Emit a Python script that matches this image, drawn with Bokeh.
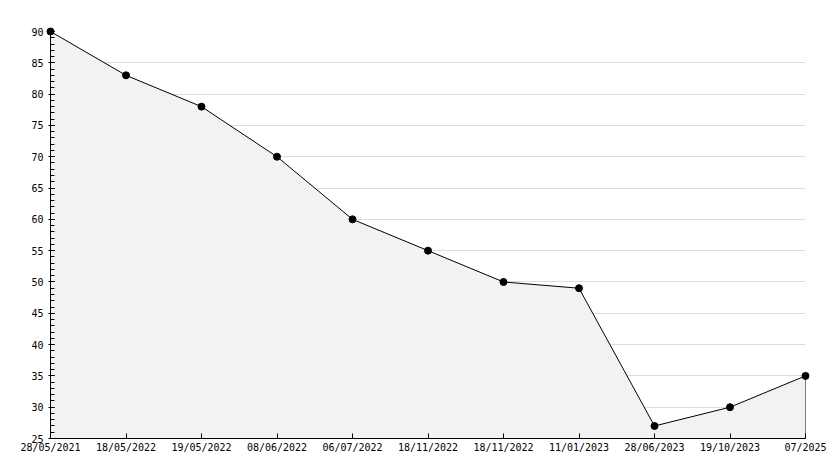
from bokeh.plotting import figure
from bokeh.models import FixedTicker, Range1d, ColumnDataSource
from bokeh.embed import file_html
from bokeh.resources import INLINE

dates = ["28/05/2021", "18/05/2022", "19/05/2022", "08/06/2022", "06/07/2022",
         "18/11/2022", "18/11/2022", "11/01/2023", "28/06/2023", "19/10/2023", "07/2025"]
values = [90, 83, 78, 70, 60, 55, 50, 49, 27, 30, 35]
y_min, y_max = 25, 90
y_ticks = list(range(25, 95, 5))

xs = list(range(len(values)))
src = ColumnDataSource(dict(x=xs, y=values, base=[y_min] * len(values)))

p = figure(width=830, height=460, output_backend="svg", toolbar_location=None,
           x_range=Range1d(0, len(values) - 1), y_range=Range1d(y_min, y_max),
           min_border_left=50, min_border_right=25, min_border_top=31, min_border_bottom=22)
p.outline_line_color = None
p.background_fill_color = "white"

p.varea(x="x", y1="base", y2="y", source=src, fill_color="#f2f2f2")
p.line(x="x", y="y", source=src, line_color="black", line_width=1)
p.segment(x0=[xs[-1]], y0=[y_min], x1=[xs[-1]], y1=[values[-1]], line_color="black", line_width=1)
pts = p.scatter(x="x", y="y", source=src, marker="circle", size=7, fill_color="black", line_color="black")
pts.level = "overlay"

p.xgrid.grid_line_color = None
p.ygrid.grid_line_color = "#dddddd"
p.ygrid.grid_line_width = 1

p.xaxis.ticker = FixedTicker(ticks=xs)
p.xaxis.major_label_overrides = {i: d for i, d in enumerate(dates)}
p.yaxis.ticker = FixedTicker(ticks=y_ticks, minor_ticks=list(range(25, 91)))

for ax in (p.xaxis[0], p.yaxis[0]):
    ax.axis_line_color = "black"
    ax.major_tick_line_color = "black"
    ax.minor_tick_line_color = "black"
    ax.major_label_text_font = "DejaVu Sans Mono"
    ax.major_label_text_font_size = "10px"
    ax.major_label_text_color = "black"

p.xaxis.major_tick_in = 5
p.xaxis.major_tick_out = 0
p.xaxis.minor_tick_in = 0
p.xaxis.minor_tick_out = 0
p.xaxis.major_label_standoff = 3

p.yaxis.major_tick_in = 4
p.yaxis.major_tick_out = 2
p.yaxis.minor_tick_in = 4
p.yaxis.minor_tick_out = 0
p.yaxis.major_label_standoff = 5

open("out.html", "w").write(file_html(p, INLINE))
